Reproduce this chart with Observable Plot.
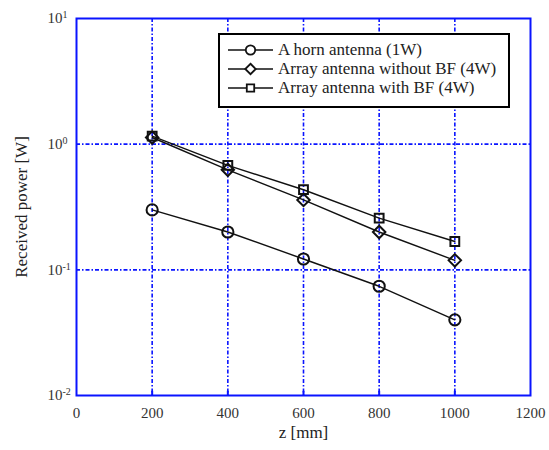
<!DOCTYPE html>
<html><head><meta charset="utf-8">
<script src="https://cdn.jsdelivr.net/npm/d3@7"></script>
<script src="https://cdn.jsdelivr.net/npm/@observablehq/plot@0.6"></script>
<style>
body{margin:0;background:#fff;}
#wrap{position:relative;width:549px;height:450px;font-family:"Liberation Serif","Times New Roman",serif;}
#legend{position:absolute;left:218px;top:33px;width:288px;height:66px;border:2px solid #000;background:#fff;padding-top:5px;box-sizing:content-box;}
.row{display:flex;align-items:center;height:19px;font-size:17px;color:#222;font-family:"Liberation Serif","Times New Roman",serif;}
.row svg{margin-left:8px;margin-right:5px;}
</style></head><body>
<div id="wrap"><div id="chart"></div><div id="legend"></div></div>
<script>
const zValues = [200, 400, 600, 800, 1000];
const horn = [0.30, 0.20, 0.122, 0.074, 0.040];
const arrayNoBF = [1.13, 0.625, 0.36, 0.20, 0.119];
const arrayBF = [1.16, 0.677, 0.434, 0.258, 0.168];
const seriesNames = ["A horn antenna (1W)", "Array antenna without BF (4W)", "Array antenna with BF (4W)"];
const seriesSymbols = ["circle", "diamond2", "square2"];
const xTicks = [0, 200, 400, 600, 800, 1000, 1200];
const yTicks = [0.01, 0.1, 1, 10];
const yTickExponents = ["-2", "-1", "0", "1"];
const xGrid = [200, 400, 600, 800, 1000];
const yGrid = [0.1, 1];

const allSeries = [horn, arrayNoBF, arrayBF];
const data = allSeries.flatMap((vals, i) => vals.map((v, j) => ({z: zValues[j], p: v, s: seriesNames[i]})));

const blue = "#0a14ff";
const chart = Plot.plot({
  width: 549, height: 450,
  marginLeft: 76, marginRight: 19, marginTop: 18, marginBottom: 55,
  style: {fontFamily: '"Liberation Serif", "Times New Roman", serif', fontSize: "15px", color: "#333", background: "#fff"},
  x: {domain: [0, 1200]},
  y: {type: "log", domain: [0.01, 10]},
  symbol: {domain: seriesNames, range: seriesSymbols},
  marks: [
    Plot.ruleX(xGrid, {stroke: blue, strokeWidth: 1.6, strokeDasharray: "4,2,1.5,2"}),
    Plot.ruleY(yGrid, {stroke: blue, strokeWidth: 1.6, strokeDasharray: "4,2,1.5,2"}),
    Plot.frame({stroke: blue, strokeWidth: 2}),
    Plot.ruleX(xGrid, {y1: yTicks[0], y2: yTicks[0] * 1.08, stroke: blue, strokeWidth: 2}),
    Plot.line(data, {x: "z", y: "p", z: "s", stroke: "#111", strokeWidth: 1.4}),
    Plot.dot(data, {x: "z", y: "p", symbol: "s", r: 5.6, stroke: "#111", fill: "none", strokeWidth: 2}),
    Plot.axisX({ticks: xTicks, tickSize: 0, tickPadding: 12, label: null, tickFormat: d => String(d)}),
    Plot.axisY({ticks: yTicks, tickSize: 0, tickPadding: 16, label: null, tickFormat: d => "10^" + yTickExponents[yTicks.indexOf(d)]}),
    Plot.text(["z [mm]"], {frameAnchor: "bottom", dy: 42, fontSize: 17, fill: "#222"}),
    Plot.text(["Received power [W]"], {frameAnchor: "left", textAnchor: "middle", dx: -55, rotate: -90, fontSize: 17, fill: "#222"})
  ]
});
// render superscript exponents on y tick labels
chart.querySelectorAll('g[aria-label="y-axis tick label"] text').forEach(t => {
  const s = t.textContent;
  if (s.startsWith("10^")) {
    const exp = s.slice(3);
    t.textContent = "";
    const base = document.createElementNS("http://www.w3.org/2000/svg", "tspan");
    base.textContent = "10";
    const sup = document.createElementNS("http://www.w3.org/2000/svg", "tspan");
    sup.textContent = exp;
    sup.setAttribute("dy", "-0.5em");
    sup.setAttribute("font-size", "10px");
    t.appendChild(base);
    t.appendChild(sup);
    t.setAttribute("text-anchor", "start");
    const x = +t.getAttribute("x") || 0;
    t.setAttribute("x", x - 13);
  }
});
document.getElementById("chart").appendChild(chart);

const leg = document.getElementById("legend");
seriesNames.forEach((name, i) => {
  const row = document.createElement("div");
  row.className = "row";
  const sym = d3.symbol(i === 0 ? d3.symbolCircle : i === 1 ? d3.symbolDiamond2 : d3.symbolSquare2, 70)();
  row.innerHTML = `<svg width="45" height="14"><line x1="0" x2="45" y1="7" y2="7" stroke="#111" stroke-width="1.5"/><path transform="translate(22.5,7)" d="${sym}" fill="#fff" stroke="#111" stroke-width="1.8"/></svg><span>${name}</span>`;
  leg.appendChild(row);
});
</script>
</body></html>
